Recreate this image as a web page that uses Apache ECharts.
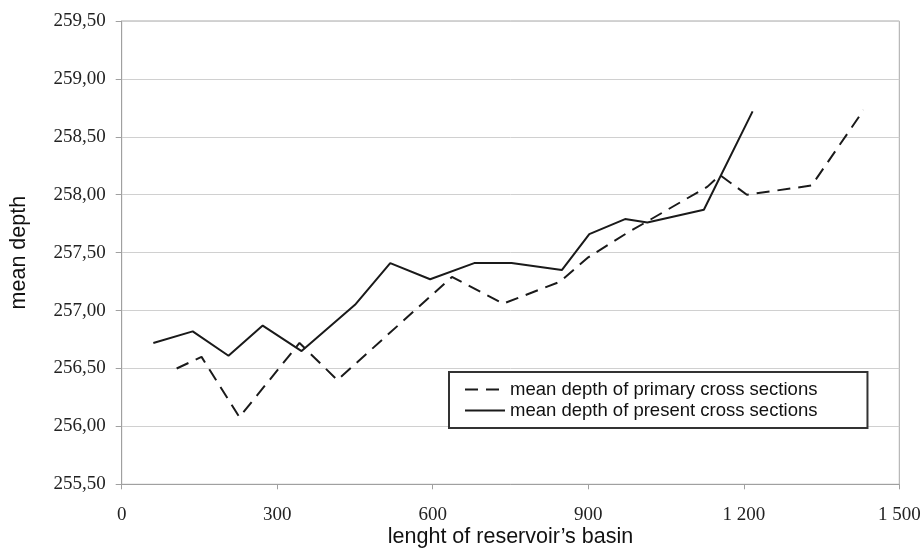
<!DOCTYPE html>
<html>
<head>
<meta charset="utf-8">
<script src="https://cdn.jsdelivr.net/npm/echarts@6/dist/echarts.min.js"></script>
<style>
html,body{margin:0;padding:0;background:#fff;}
#chart{width:923px;height:550px;}
</style>
</head>
<body>
<div id="chart"></div>
<script>
// Data
const primaryX = [106, 154, 227, 343, 416, 637, 736, 846, 900, 975, 1010, 1130, 1154, 1206, 1331, 1431];
const primaryY = [256.50, 256.60, 256.08, 256.72, 256.40, 257.29, 257.06, 257.25, 257.46, 257.67, 257.76, 258.07, 258.17, 258.00, 258.08, 258.73];
const presentX = [61, 137, 206, 272, 347, 450, 518, 595, 680, 752, 849, 902, 971, 1014, 1123, 1217];
const presentY = [256.72, 256.82, 256.61, 256.87, 256.65, 257.05, 257.41, 257.27, 257.41, 257.41, 257.35, 257.66, 257.79, 257.76, 257.87, 258.72];
const seriesNames = ['mean depth of primary cross sections', 'mean depth of present cross sections'];
const xTitle = 'lenght of reservoir\u2019s basin';
const yTitle = 'mean depth';

const zip = (xs, ys) => xs.map((x, i) => [x, ys[i]]);

const chart = echarts.init(document.getElementById('chart'));
chart.setOption({
  animation: false,
  backgroundColor: '#ffffff',
  grid: {
    left: 121.7, right: 23.7, top: 21, bottom: 65.7,
    outerBoundsMode: 'none', containLabel: false,
    show: true, borderColor: '#a8a8a8', borderWidth: 1
  },
  legend: {
    orient: 'vertical',
    left: 449, top: 372,
    data: seriesNames,
    backgroundColor: '#fff',
    borderColor: '#333', borderWidth: 2,
    padding: [7, 50, 7, 15],
    itemGap: 0,
    itemWidth: 40, itemHeight: 14,
    itemStyle: { opacity: 0 },
    textStyle: { fontFamily: 'Liberation Sans, Arial, sans-serif', fontSize: 18.5, lineHeight: 21, color: '#111' }
  },
  xAxis: {
    type: 'value', min: 0, max: 1500, interval: 300,
    name: xTitle, nameLocation: 'middle', nameGap: 42, nameMoveOverlap: false,
    nameTextStyle: { fontFamily: 'Liberation Sans, Arial, sans-serif', fontSize: 21.5, color: '#111' },
    axisLine: { show: true, onZero: false, lineStyle: { color: '#a0a0a0', width: 1 } },
    axisTick: { show: true, length: 5, lineStyle: { color: '#a0a0a0' } },
    splitLine: { show: false },
    axisLabel: {
      margin: 21, fontFamily: 'Liberation Serif, Times New Roman, serif', fontSize: 19, color: '#222',
      formatter: v => String(v).replace(/\B(?=(\d{3})+(?!\d))/g, ' ')
    }
  },
  yAxis: {
    type: 'value', min: 255.5, max: 259.5, interval: 0.5,
    name: yTitle, nameLocation: 'middle', nameGap: 92, nameRotate: 90, nameMoveOverlap: false,
    nameTextStyle: { fontFamily: 'Liberation Sans, Arial, sans-serif', fontSize: 21.5, color: '#111' },
    axisLine: { show: true, lineStyle: { color: '#a0a0a0', width: 1 } },
    axisTick: { show: true, length: 6, lineStyle: { color: '#a0a0a0' } },
    splitLine: { show: true, lineStyle: { color: '#d0d0d0', width: 1 } },
    axisLabel: {
      margin: 16, fontFamily: 'Liberation Serif, Times New Roman, serif', fontSize: 19, color: '#222',
      formatter: v => v.toFixed(2).replace('.', ',')
    }
  },
  series: [
    {
      name: seriesNames[0], type: 'line', data: zip(primaryX, primaryY),
      symbol: 'none', z: 3,
      lineStyle: { color: '#1a1a1a', width: 2, type: [13, 8] },
      itemStyle: { color: '#1a1a1a' }
    },
    {
      name: seriesNames[1], type: 'line', data: zip(presentX, presentY),
      symbol: 'none', z: 4,
      lineStyle: { color: '#1a1a1a', width: 2, type: 'solid' },
      itemStyle: { color: '#1a1a1a' }
    }
  ]
});
</script>
</body>
</html>
